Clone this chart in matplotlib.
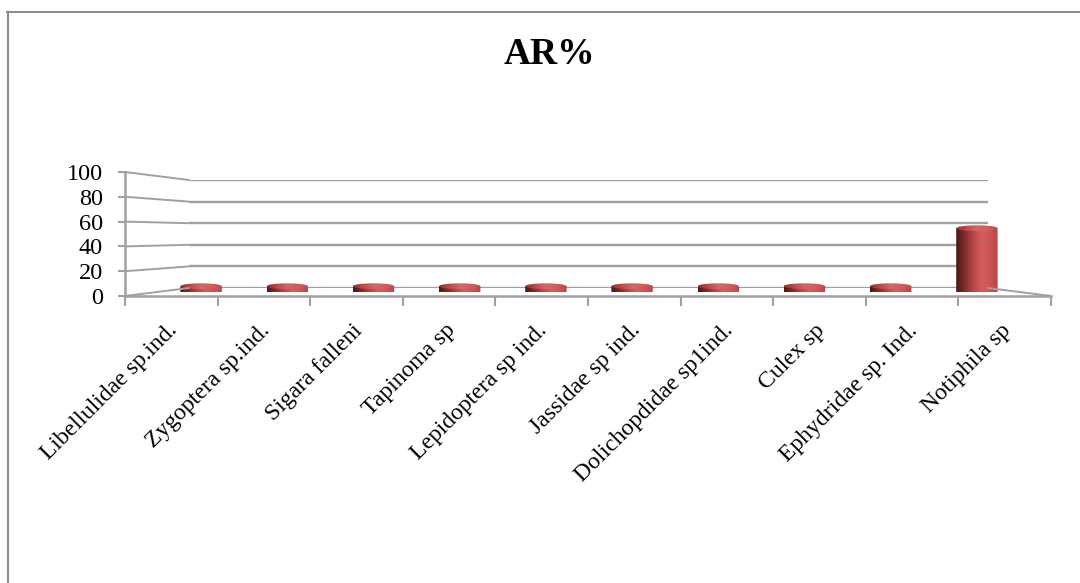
import numpy as np
import matplotlib
matplotlib.use("Agg")
import matplotlib.pyplot as plt
from matplotlib.patches import ConnectionPatch, Ellipse, PathPatch
from matplotlib.path import Path
from matplotlib.colors import LinearSegmentedColormap
from matplotlib.lines import Line2D
import matplotlib.transforms as mtransforms

# ---- data ----
categories = [
    "Libellulidae sp.ind.", "Zygoptera sp.ind.", "Sigara falleni", "Tapinoma sp",
    "Lepidoptera sp ind.", "Jassidae sp ind.", "Dolichopdidae sp1ind.", "Culex sp",
    "Ephydridae sp. Ind.", "Notiphila sp",
]
ar_percent = [5, 5, 5, 5, 5, 5, 5, 5, 5, 55]
y_ticks = [0, 20, 40, 60, 80, 100]
title = "AR%"

plt.rcParams["font.family"] = ["Liberation Serif", "DejaVu Serif"]

W, H = 1080, 583
fig = plt.figure(figsize=(W / 100, H / 100), dpi=100)
fig.patch.set_facecolor("white")


def px_axes(x0, x1, y_bottom, y_top):
    """Axes placed by pixel box (y measured from the top)."""
    return fig.add_axes([x0 / W, 1 - y_bottom / H, (x1 - x0) / W, (y_bottom - y_top) / H])


n = len(categories)
GRID = "#a0a0a0"

# back wall (gridlines), middle plane (cylinders), front plane (axes)
axB = px_axes(189, 988, 288, 180)
axM = px_axes(158, 1020, 292, 176)
axF = px_axes(125, 1051, 296, 172)
for ax in (axB, axM, axF):
    ax.set_xlim(0, n)
    ax.set_ylim(0, 100)
    ax.patch.set_alpha(0)
for ax in (axB, axM):
    ax.set_axis_off()

# back gridlines and the left wall / floor edges
for v in y_ticks:
    axB.plot([0, n], [v, v], color=GRID, lw=1.7, solid_capstyle="butt")
    fig.add_artist(ConnectionPatch((0, v), (0, v), coordsA=axF.transData,
                                   coordsB=axB.transData, color=GRID, lw=1.4))
fig.add_artist(ConnectionPatch((n, 0), (n, 0), coordsA=axF.transData,
                               coordsB=axB.transData, color=GRID, lw=1.4))

# front axis styling
for s in ("top", "right"):
    axF.spines[s].set_visible(False)
for s in ("left", "bottom"):
    axF.spines[s].set_color(GRID)
    axF.spines[s].set_linewidth(1.8)
axF.set_yticks(y_ticks)
axF.set_yticklabels([str(v) for v in y_ticks])
axF.tick_params(axis="y", direction="out", length=5, width=1.5, color=GRID,
                labelsize=17.5, pad=11, labelcolor="black")
axF.set_xticks(np.arange(n + 1))
axF.set_xticklabels([])
axF.tick_params(axis="x", direction="out", length=7, width=1.5, color=GRID)

# category labels, rotated
lab_tr = mtransforms.offset_copy(axF.transData, fig=fig, x=10, y=-24, units="dots")
for i, name in enumerate(categories):
    fig.text(i + 0.5, 0, name, transform=lab_tr, rotation=45, ha="right", va="top",
             fontsize=17, color="black")

# cylinders
body_cmap = LinearSegmentedColormap.from_list(
    "body", ["#4a1616", "#7e2b2b", "#b44646", "#d45d5d", "#cf5656", "#b84444"])
top_cmap = LinearSegmentedColormap.from_list(
    "top", ["#8a3030", "#c04a4a", "#d86464", "#d45c5c", "#c04a4a"])
grad = np.linspace(0, 1, 256)[None, :]
bar_w = 0.48
ell_h = 5.0  # ellipse height in value units

for i, v in enumerate(ar_percent):
    xc = i + 0.5
    x0, x1 = xc - bar_w / 2, xc + bar_w / 2
    t = np.linspace(np.pi, 2 * np.pi, 40)
    bottom_arc = np.column_stack([xc + bar_w / 2 * np.cos(t), ell_h / 2 * np.sin(t)])
    verts = np.vstack([[x0, v], bottom_arc, [x1, v], [x0, v]])
    clip = PathPatch(Path(verts), transform=axM.transData, facecolor="none", edgecolor="none")
    axM.add_patch(clip)
    im = axM.imshow(grad, cmap=body_cmap, extent=(x0, x1, -ell_h / 2, v),
                    aspect="auto", zorder=2, interpolation="bilinear")
    im.set_clip_path(clip)
    top = Ellipse((xc, v), bar_w, ell_h, transform=axM.transData,
                  facecolor="none", edgecolor="none")
    axM.add_patch(top)
    imt = axM.imshow(grad, cmap=top_cmap, extent=(x0, x1, v - ell_h / 2, v + ell_h / 2),
                     aspect="auto", zorder=3, interpolation="bilinear")
    imt.set_clip_path(top)

axM.set_xlim(0, n)
axM.set_ylim(0, 100)

# title
fig.text(549 / W, 1 - 54 / H, title, ha="center", va="center", fontsize=27,
         fontweight="bold", color="black")

# chart frame
fig.add_artist(Line2D([7 / W, 1], [1 - 12 / H, 1 - 12 / H], transform=fig.transFigure,
                      color="#8c8c8c", lw=1.5))
fig.add_artist(Line2D([8 / W, 8 / W], [1 - 12 / H, 0], transform=fig.transFigure,
                      color="#8c8c8c", lw=1.5))

fig.savefig("out.png", dpi=100, facecolor="white")
